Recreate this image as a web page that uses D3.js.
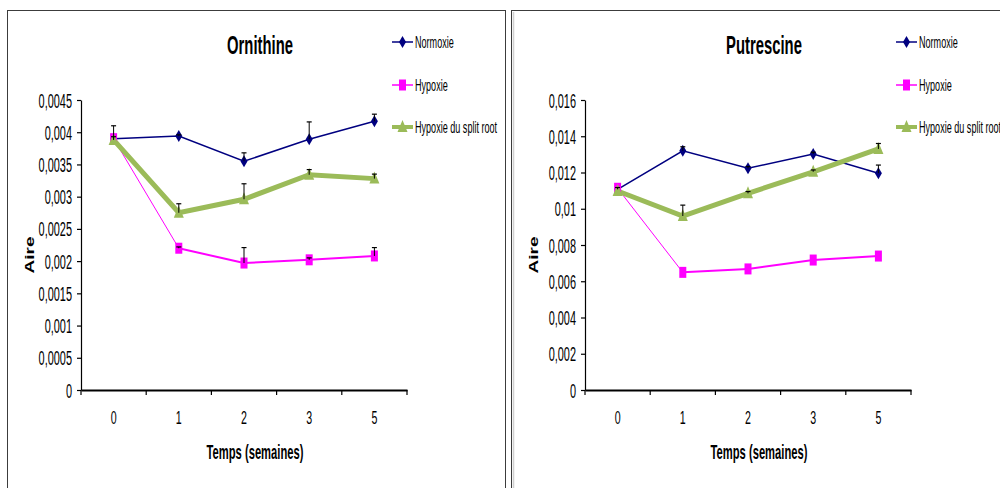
<!DOCTYPE html>
<html><head><meta charset="utf-8">
<script src="https://cdn.jsdelivr.net/npm/d3@7"></script>
<style>html,body{margin:0;padding:0;background:#fff}svg{display:block}</style>
</head><body>
<svg id="c" width="1000" height="488"></svg>
<script>
// ---------- DATA ----------
const categories = ["0", "1", "2", "3", "5"];
const seriesNames = ["Normoxie", "Hypoxie", "Hypoxie du split root"];

// Ornithine panel
const ornNormoxie      = [0.0039, 0.00394, 0.00355, 0.00389, 0.00417];
const ornNormoxieErr   = [0.0002, 0.00002, 0.00013, 0.00027, 0.00011];
const ornHypoxie       = [0.0039, 0.0022, 0.00197, 0.00202, 0.00208];
const ornHypoxieErr    = [0, 0.00002, 0.00024, 0.00003, 0.00013];
const ornSplit         = [0.00388, 0.00275, 0.00296, 0.00334, 0.00328];
const ornSplitErr      = [0.00005, 0.00014, 0.00024, 0.00008, 0.00007];
const ornTicks         = [0, 0.0005, 0.001, 0.0015, 0.002, 0.0025, 0.003, 0.0035, 0.004, 0.0045];
const ornTickLabels    = ["0", "0,0005", "0,001", "0,0015", "0,002", "0,0025", "0,003", "0,0035", "0,004", "0,0045"];

// Putrescine panel
const putNormoxie      = [0.01107, 0.0132, 0.01223, 0.01302, 0.01196];
const putNormoxieErr   = [0.0001, 0.00022, 0.0001, 0.0001, 0.00045];
const putHypoxie       = [0.01113, 0.00649, 0.00668, 0.00717, 0.00739];
const putHypoxieErr    = [0, 0, 0, 0, 0];
const putSplit         = [0.01098, 0.0096, 0.01085, 0.01204, 0.0133];
const putSplitErr      = [0, 0.0006, 0.0001, 0.0001, 0.0003];
const putTicks         = [0, 0.002, 0.004, 0.006, 0.008, 0.01, 0.012, 0.014, 0.016];
const putTickLabels    = ["0", "0,002", "0,004", "0,006", "0,008", "0,01", "0,012", "0,014", "0,016"];

const titles = ["Ornithine", "Putrescine"];
const yTitle = "Aire";
const xTitle = "Temps (semaines)";

// ---------- DRAW ----------
const svg = d3.select("#c");
svg.append("rect").attr("width", 1000).attr("height", 488).attr("fill", "#fff");

const FONT = "'Liberation Sans', Arial, sans-serif";
const colors = ["#000080", "#FF00FF", "#9BBB59"];
const widths = [1.5, 2, 5];

function txt(g, x, y, s, o) {
  return g.append("text")
    .attr("transform", `translate(${x},${y}) scale(${o.sx},1)` + (o.rot ? ` rotate(${o.rot})` : ""))
    .attr("font-family", FONT)
    .attr("font-size", o.size)
    .attr("font-weight", o.bold ? "bold" : "normal")
    .attr("text-anchor", o.anchor || "start")
    .attr("fill", "#000")
    .text(s);
}

function marker(g, idx, cx, cy) {
  if (idx === 0) {
    g.append("path").attr("d", "M0,-6L3.5,0L0,6L-3.5,0Z")
      .attr("transform", `translate(${cx},${cy})`).attr("fill", colors[0]);
  } else if (idx === 1) {
    g.append("rect").attr("x", cx - 3.5).attr("y", cy - 5.5).attr("width", 7).attr("height", 11)
      .attr("fill", colors[1]);
  } else {
    g.append("path").attr("d", "M0,-7L5,5L-5,5Z")
      .attr("transform", `translate(${cx},${cy})`).attr("fill", colors[2]);
  }
}

// panel frames
svg.append("rect").attr("x", 7.5).attr("y", 10.5).attr("width", 498).attr("height", 520)
  .attr("fill", "none").attr("stroke", "#3c3c3c").attr("stroke-width", 1);
svg.append("line").attr("x1", 513.5).attr("x2", 513.5).attr("y1", 12).attr("y2", 488)
  .attr("stroke", "#d0d0d0").attr("stroke-width", 1.5);
svg.append("rect").attr("x", 511.5).attr("y", 10.5).attr("width", 520).attr("height", 520)
  .attr("fill", "none").attr("stroke", "#3c3c3c").attr("stroke-width", 1);

const panels = [
  { ox: 0, title: titles[0], max: 0.0045, ticks: ornTicks, labels: ornTickLabels,
    series: [[ornNormoxie, ornNormoxieErr], [ornHypoxie, ornHypoxieErr], [ornSplit, ornSplitErr]] },
  { ox: 504, title: titles[1], max: 0.016, ticks: putTicks, labels: putTickLabels,
    series: [[putNormoxie, putNormoxieErr], [putHypoxie, putHypoxieErr], [putSplit, putSplitErr]] }
];

panels.forEach(p => {
  const g = svg.append("g").attr("transform", `translate(${p.ox},0)`);
  const x = d3.scaleBand().domain(categories).range([81, 407]);
  const y = d3.scaleLinear().domain([0, p.max]).range([390, 100]);

  // y axis
  const ya = g.append("g").attr("transform", "translate(81,0)")
    .call(d3.axisLeft(y).tickValues(p.ticks).tickSize(4).tickSizeOuter(0)
      .tickFormat((d, i) => p.labels[i]));
  ya.select(".domain").attr("stroke", "#000").attr("stroke-width", 1.2);
  ya.selectAll(".tick line").attr("stroke", "#000").attr("stroke-width", 1.2);
  ya.selectAll(".tick text")
    .attr("x", 0).attr("dy", null)
    .attr("transform", "translate(-9,7) scale(0.56,1)")
    .attr("font-family", FONT).attr("font-size", 19.5).attr("fill", "#000")
    .attr("text-anchor", "end");

  // x axis: line, boundary ticks, centered labels
  const xa = g.append("g").attr("transform", "translate(0,390)")
    .call(d3.axisBottom(x).tickSize(0).tickSizeOuter(0));
  xa.select(".domain").attr("stroke", "#000").attr("stroke-width", 2.2);
  xa.selectAll(".tick text").remove();
  const bounds = categories.map(c => x(c)).concat([x.range()[1]]);
  g.selectAll(".xb").data(bounds).join("line")
    .attr("x1", d => d).attr("x2", d => d).attr("y1", 390).attr("y2", 395)
    .attr("stroke", "#000").attr("stroke-width", 1.2);
  categories.forEach(c => {
    txt(g, x(c) + x.bandwidth() / 2, 424, c, { size: 19, sx: 0.56, anchor: "middle" });
  });

  // titles
  txt(g, 260, 54, p.title, { size: 26, bold: true, sx: 0.57, anchor: "middle" });
  txt(g, 255, 459, xTitle, { size: 20, bold: true, sx: 0.56, anchor: "middle" });
  txt(g, 34, 255, yTitle, { size: 19, bold: true, sx: 0.68, anchor: "middle", rot: -90 });

  const cx = c => x(c) + x.bandwidth() / 2;

  // series lines
  p.series.forEach((s, si) => {
    const pts = categories.map((c, i) => [cx(c), y(s[0][i])]);
    if (si === 1) {
      d3.pairs(pts).forEach((pr, k) => {
        g.append("path").attr("d", d3.line()(pr)).attr("fill", "none")
          .attr("stroke", colors[1]).attr("stroke-width", k === 0 ? 1 : 2);
      });
    } else {
      g.append("path").attr("d", d3.line()(pts)).attr("fill", "none")
        .attr("stroke", colors[si]).attr("stroke-width", widths[si])
        .attr("stroke-linejoin", "miter");
    }
  });
  // markers
  p.series.forEach((s, si) => {
    categories.forEach((c, i) => marker(g, si, cx(c), y(s[0][i])));
  });
  // error bars (upper only)
  p.series.forEach((s, si) => {
    categories.forEach((c, i) => {
      const e = s[1][i];
      if (!e) return;
      const x0 = cx(c), y0 = y(s[0][i]), y1 = y(s[0][i] + e);
      g.append("line").attr("x1", x0).attr("x2", x0).attr("y1", y0).attr("y2", y1)
        .attr("stroke", "#000").attr("stroke-width", 1);
      g.append("line").attr("x1", x0 - 2.5).attr("x2", x0 + 2.5).attr("y1", y1).attr("y2", y1)
        .attr("stroke", "#000").attr("stroke-width", 1.2);
    });
  });

  // legend
  const ly = [42, 85, 127];
  seriesNames.forEach((n, si) => {
    g.append("line").attr("x1", 392).attr("x2", 413).attr("y1", ly[si]).attr("y2", ly[si])
      .attr("stroke", colors[si]).attr("stroke-width", si === 2 ? 4 : 1.5);
    marker(g, si, 402.5, ly[si]);
    txt(g, 415, ly[si] + 5.5, n, { size: 16.5, sx: 0.55 });
  });
});
</script>
</body></html>
